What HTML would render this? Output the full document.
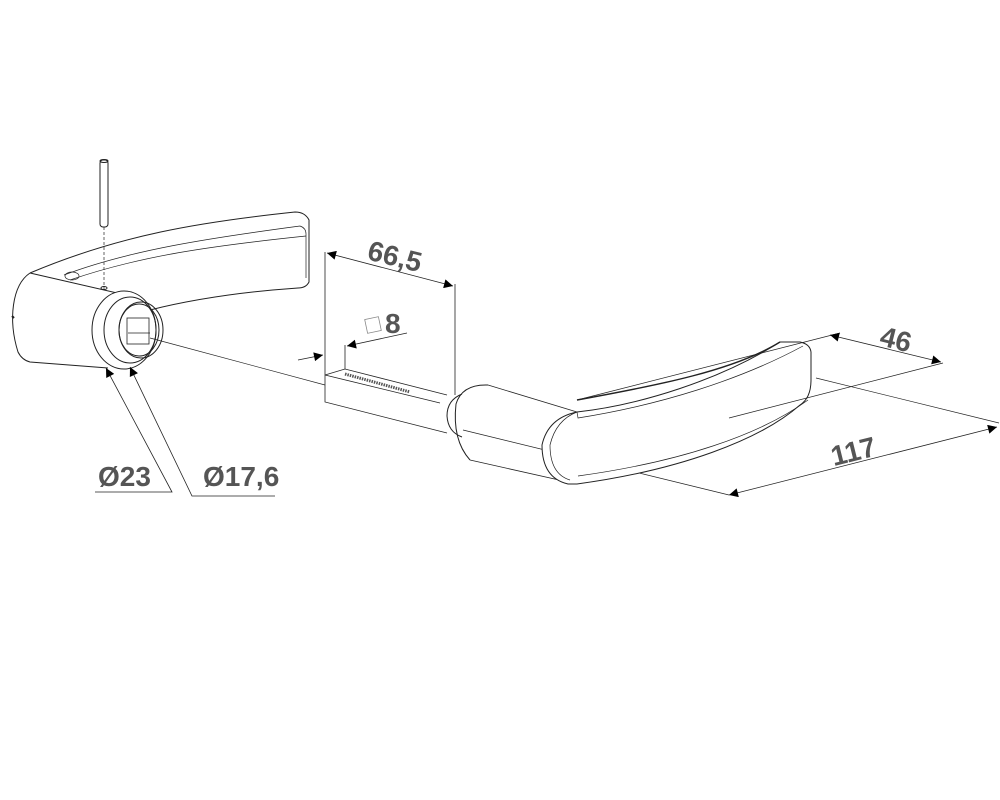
<!DOCTYPE html>
<html><head><meta charset="utf-8"><style>
html,body{margin:0;padding:0;background:#fff}
svg{display:block}
text{font-family:"Liberation Sans","DejaVu Sans",sans-serif;font-weight:bold;fill:#555;font-size:28px}
</style></head><body>
<svg width="1000" height="800" viewBox="0 0 1000 800" xmlns="http://www.w3.org/2000/svg">
<defs><marker id="a" viewBox="0 0 10 10" refX="10" refY="5" markerWidth="12" markerHeight="9" orient="auto-start-reverse" markerUnits="userSpaceOnUse"><path d="M0,0L10,5L0,10z" fill="#000"/></marker></defs>
<g fill="none" stroke="#222" stroke-width="1">
<rect x="100" y="160" width="8" height="67" rx="3" fill="#fff"/>
<ellipse cx="104" cy="161" rx="4" ry="1.5"/>
<line x1="104" y1="227" x2="104" y2="290" stroke-dasharray="3,2" stroke-width="0.7"/>
<ellipse cx="104" cy="288" rx="3" ry="1.5"/>
<path d="M30,273 C120,235 200,222 295,212 Q305,212 309,220 L309,282 Q306,288 298,288 C240,292 190,300 150,310"/>
<path d="M64,275 C130,250 210,238 300,226 M300,226 Q306,228 306,234 L306,278" stroke-width="0.7"/>
<path d="M70,280 C140,256 210,246 306,236" stroke-width="0.7"/>
<ellipse cx="72" cy="276" rx="7" ry="4" stroke-width="0.7"/>
<path d="M30,273 C12,285 8,320 18,352 Q22,360 30,362 L108,368"/>
<line x1="30" y1="273" x2="130" y2="296"/>
<line x1="12" y1="316" x2="14" y2="318" stroke-width="2"/>
<ellipse cx="124" cy="330" rx="32" ry="39" fill="#fff"/>
<ellipse cx="130" cy="330" rx="26" ry="33"/>
<ellipse cx="141" cy="330" rx="22" ry="28"/>
<ellipse cx="139" cy="330" rx="20" ry="26"/>
<rect x="127" y="318" width="22" height="26" stroke-width="0.8"/>
<line x1="128" y1="333" x2="150" y2="333" stroke-width="0.8"/>
<line x1="150" y1="338" x2="325" y2="385" stroke-width="0.7"/>
<path d="M325,375 L345,369 L447,395 M325,375 L325,402 L447,433 M325,375 L440,403" stroke-width="0.8"/>
<path d="M345,374 L410,392" stroke="#555" stroke-width="3" stroke-dasharray="1.5,1"/>
<line x1="325" y1="252" x2="325" y2="375" stroke-width="0.8"/>
<line x1="455" y1="284" x2="455" y2="395" stroke-width="0.8"/>
<line x1="327" y1="253" x2="453" y2="286" marker-start="url(#a)" marker-end="url(#a)" stroke-width="0.8"/>
<line x1="298" y1="360" x2="323" y2="355" marker-end="url(#a)" stroke-width="0.8"/>
<line x1="407" y1="333" x2="347" y2="346" marker-end="url(#a)" stroke-width="0.8"/>
<line x1="345" y1="345" x2="345" y2="369" stroke-width="0.8"/>
<rect x="366" y="318" width="14" height="14" stroke="#888" stroke-width="0.8" transform="rotate(-12 373 325)"/>
<path d="M488,385 L577,412 M470,460 L568,482" stroke-width="0.8"/>
<path d="M488,385 Q462,384 456,404 Q452,440 470,460"/>
<path d="M462,394 Q447,400 447,416 Q448,432 462,437"/>
<line x1="463" y1="430" x2="729" y2="495" stroke-width="0.7"/>
<path d="M577,412 Q548,418 542,445 Q542,478 568,484 L577,484 C680,470 760,440 800,405 Q811,398 811,380 L811,352 Q810,344 800,342 L780,342 C720,380 640,405 577,412 Z" fill="#fff"/>
<path d="M577,412 Q556,420 550,445 Q550,474 570,480" stroke-width="0.7"/>
<path d="M577,412 L578,418 C660,405 740,380 803,346" stroke-width="0.7"/>
<path d="M578,476 C680,462 760,435 808,400" stroke-width="0.7"/>
<path d="M577,400 C660,385 735,370 780,342" stroke-width="1.4"/>
<line x1="577" y1="400" x2="840" y2="333" stroke-width="0.7"/>
<line x1="729" y1="418" x2="943" y2="363" stroke-width="0.7"/>
<line x1="816" y1="378" x2="999" y2="423" stroke-width="0.7"/>
<line x1="830" y1="335" x2="941" y2="362" marker-start="url(#a)" marker-end="url(#a)" stroke-width="0.8"/>
<line x1="729" y1="495" x2="997" y2="427" marker-start="url(#a)" marker-end="url(#a)" stroke-width="0.8"/>
<polyline points="95,492 172,492 106,368" stroke-width="0.8" marker-end="url(#a)"/>
<polyline points="275,496 192,496 130,367" stroke-width="0.8" marker-end="url(#a)"/>
</g>
<text x="395" y="266" text-anchor="middle" transform="rotate(14 395 256)">66,5</text>
<text x="385" y="333">8</text>
<text x="896" y="349" text-anchor="middle" transform="rotate(14 896 339)">46</text>
<text x="853" y="461" text-anchor="middle" transform="rotate(-14 853 450)">117</text>
<text x="98" y="486">Ø23</text>
<text x="203" y="486">Ø17,6</text>
</svg>
</body></html>
